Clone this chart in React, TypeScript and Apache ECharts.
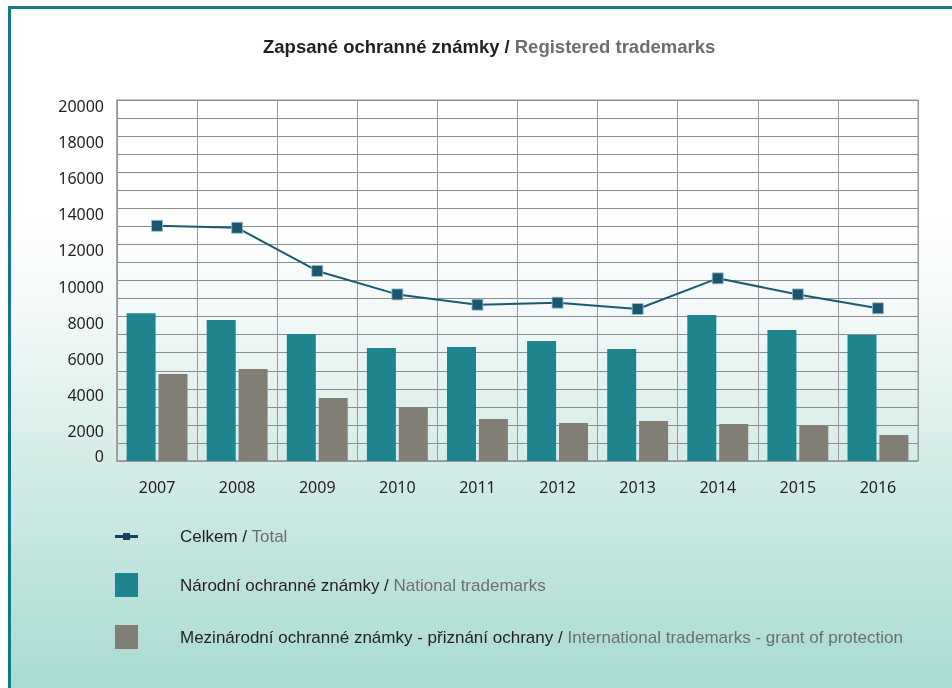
import React, { useEffect, useRef } from "react";
import * as echarts from "echarts";

const years = ["2007", "2008", "2009", "2010", "2011", "2012", "2013", "2014", "2015", "2016"];
const totalValues = [13030, 12920, 10530, 9230, 8660, 8770, 8420, 10120, 9230, 8460];
const nationalValues = [8180, 7810, 7040, 6260, 6320, 6650, 6210, 8090, 7260, 6980];
const internationalValues = [4820, 5100, 3490, 2980, 2330, 2110, 2220, 2050, 1960, 1440];

const seriesNames = [
  "Celkem / Total",
  "Národní ochranné známky / National trademarks",
  "Mezinárodní ochranné známky - přiznání ochrany / International trademarks - grant of protection",
];

const TXT = "'Liberation Sans', Arial, sans-serif";
const REG = "'Noto Sans', 'Open Sans', 'Liberation Sans', sans-serif";

export default function App() {
  const ref = useRef<HTMLDivElement>(null);
  useEffect(() => {
    if (!ref.current) return;
    const chart = echarts.init(ref.current, undefined, { renderer: "svg" });
    chart.setOption({
      animation: false,
      graphic: [
        {
          type: "rect",
          z: -100,
          silent: true,
          shape: { x: 8, y: 6, width: 944, height: 682 },
          style: { fill: "#13798a" },
        },
        {
          type: "rect",
          z: -99,
          silent: true,
          shape: { x: 11, y: 9, width: 941, height: 679 },
          style: {
            fill: new echarts.graphic.LinearGradient(0, 0, 0, 1, [
              { offset: 0, color: "#ffffff" },
              { offset: 0.3, color: "#ffffff" },
              { offset: 0.45, color: "#f2f9f8" },
              { offset: 0.68, color: "#d3ebe6" },
              { offset: 1, color: "#a8dbd2" },
            ]),
          },
        },
      ],
      title: {
        text: "{a|Zapsané ochranné známky /} {b|Registered trademarks}",
        left: 258,
        top: 32,
        textStyle: {
          rich: {
            a: { fontFamily: TXT, fontWeight: "bold", fontSize: 18.5, color: "#231f20" },
            b: { fontFamily: TXT, fontWeight: "bold", fontSize: 18.5, color: "#6d6e70" },
          },
        },
      },
      grid: {
        left: 117,
        right: 34,
        top: 100,
        bottom: 227,
        show: true,
        borderColor: "#9a9a9a",
        borderWidth: 1,
      },
      legend: {
        orient: "vertical",
        left: 115,
        top: 528,
        padding: 0,
        itemWidth: 23,
        itemHeight: 24,
        itemGap: 28,
        data: [
          {
            name: seriesNames[0],
            icon: "path://M0,2 L23,2 L23,5 L0,5 Z M8,0 L15,0 L15,7 L8,7 Z",
            itemStyle: { color: "#15405f", borderWidth: 0, borderColor: "transparent" },
            lineStyle: { width: 0, color: "transparent" },
          },
          { name: seriesNames[1], icon: "rect" },
          { name: seriesNames[2], icon: "rect" },
        ],
        formatter: (name: string) => {
          const i = name.indexOf(" / ");
          return `{s|}{a|${name.slice(0, i)} /}{b| ${name.slice(i + 3)}}`;
        },
        textStyle: {
          rich: {
            s: { width: 37 },
            a: { fontFamily: TXT, fontSize: 17, color: "#231f20", lineHeight: 24 },
            b: { fontFamily: TXT, fontSize: 17, color: "#6d6e70", lineHeight: 24 },
          },
        },
      },
      xAxis: {
        type: "category",
        data: years,
        axisLine: { lineStyle: { color: "#9a9a9a", width: 1.5 } },
        axisTick: { show: false },
        splitLine: { show: true, lineStyle: { color: "#9a9a9a", width: 1 } },
        axisLabel: { fontFamily: REG, fontSize: 16, color: "#231f20", margin: 18 },
      },
      yAxis: {
        type: "value",
        min: 0,
        max: 20000,
        interval: 1000,
        axisLine: { show: true, lineStyle: { color: "#9a9a9a", width: 1.5 } },
        axisTick: { show: false },
        splitLine: { lineStyle: { color: "#8c8c8c", width: 1.2 } },
        axisLabel: {
          margin: 13,
          fontFamily: REG,
          fontSize: 16,
          color: "#231f20",
          formatter: (v: number) =>
            v % 2000 !== 0 ? "" : v === 0 ? `{z|0}` : `{n|${v}}`,
          rich: {
            n: { fontFamily: REG, fontSize: 16, color: "#231f20", padding: [12, 0, 0, 0] },
            z: { fontFamily: REG, fontSize: 16, color: "#231f20", padding: [0, 0, 10, 0] },
          },
        },
      },
      series: [
        {
          name: seriesNames[0],
          type: "line",
          data: totalValues,
          symbol: "rect",
          symbolSize: 11,
          z: 5,
          lineStyle: { color: "#1d5a72", width: 2 },
          itemStyle: { color: "#1b5670", borderColor: "#9fc3cc", borderWidth: 0.8 },
        },
        {
          name: seriesNames[1],
          type: "bar",
          data: nationalValues,
          barWidth: 29,
          barGap: "10%",
          itemStyle: { color: "#1e858f" },
        },
        {
          name: seriesNames[2],
          type: "bar",
          data: internationalValues,
          barWidth: 29,
          itemStyle: { color: "#817e75" },
        },
      ],
    });
    return () => chart.dispose();
  }, []);
  return (
    <div
      ref={ref}
      style={{ position: "fixed", left: 0, top: 0, width: 952, height: 688 }}
    />
  );
}
